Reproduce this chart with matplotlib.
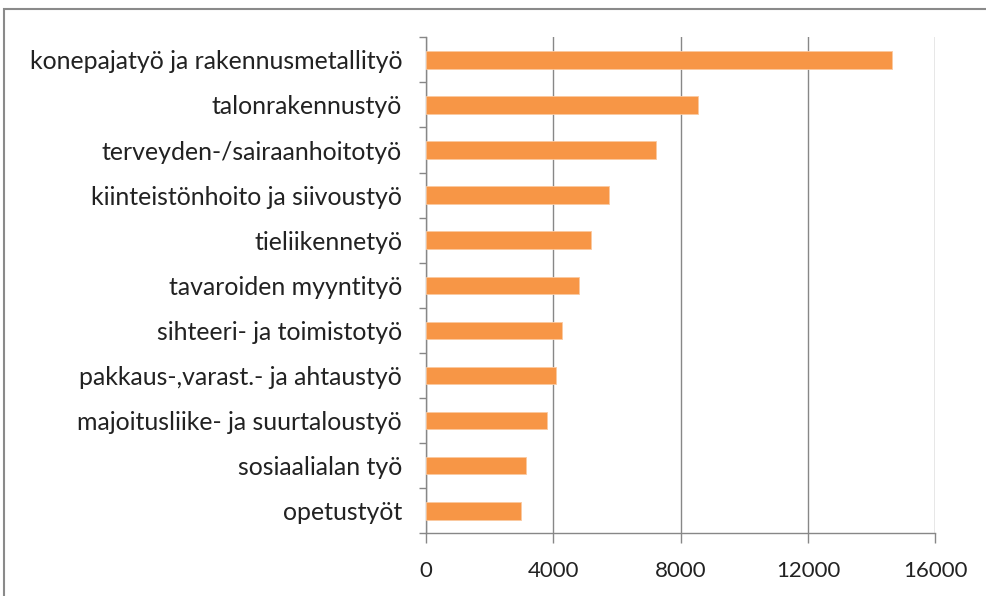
import matplotlib
matplotlib.use("Agg")
import matplotlib.pyplot as plt
from matplotlib.patches import Rectangle
import numpy as np

categories = [
    "konepajatyö ja rakennusmetallityö",
    "talonrakennustyö",
    "terveyden-/sairaanhoitotyö",
    "kiinteistönhoito ja siivoustyö",
    "tieliikennetyö",
    "tavaroiden myyntityö",
    "sihteeri- ja toimistotyö",
    "pakkaus-,varast.- ja ahtaustyö",
    "majoitusliike- ja suurtaloustyö",
    "sosiaalialan työ",
    "opetustyöt",
]
values = [14650, 8540, 7220, 5740, 5200, 4800, 4280, 4080, 3800, 3150, 2990]
xticks = [0, 4000, 8000, 12000, 16000]

plt.rcParams['font.family'] = ['Lato', 'DejaVu Sans']

fig = plt.figure(figsize=(9.86, 5.96), dpi=100)
ax = fig.add_axes([425.7/986, 1-533.3/596, (935.3-425.7)/986, (533.3-37.3)/596])

gray = "#878787"
n = len(categories)
ypos = np.arange(n)[::-1]
ax.barh(ypos, values, height=0.39, color="#F79646", edgecolor="#FBC9A0", linewidth=0.6, zorder=3)

ax.set_xlim(0, 16000)
ax.set_ylim(-0.5, n - 0.5)
ax.set_xticks(xticks)
ax.set_xticklabels([str(v) for v in xticks], fontsize=16, color="#222222")
ax.set_yticks(ypos)
ax.set_yticklabels(categories, fontsize=17.9, color="#222222")
ax.set_yticks(np.arange(-0.5, n, 1.0), minor=True)
ax.tick_params(axis='y', which='major', length=0, pad=17)
ax.tick_params(axis='y', which='minor', length=5, color=gray, width=1)
ax.tick_params(axis='x', which='major', length=7, color=gray, width=1, pad=13)

ax.grid(axis='x', color=gray, linewidth=1, zorder=0)
for s in ['top', 'right']:
    ax.spines[s].set_visible(False)
for s in ['left', 'bottom']:
    ax.spines[s].set_color(gray)
    ax.spines[s].set_linewidth(1)

fig.patches.append(Rectangle((4/986, -0.1), 1.2, 1 - 9/596 + 0.1, transform=fig.transFigure,
                             fill=False, edgecolor="#8a8a8a", linewidth=1.5))

fig.savefig("out.png", dpi=100)
